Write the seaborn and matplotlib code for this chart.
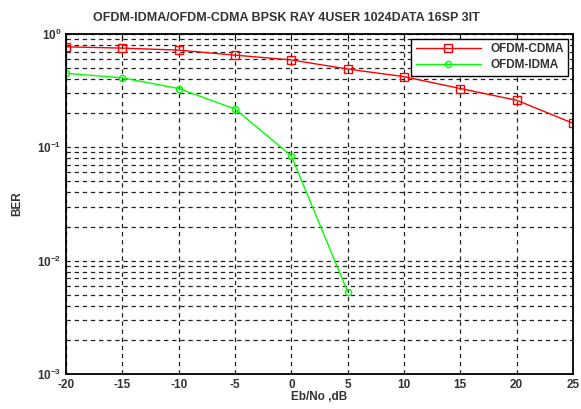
import matplotlib
matplotlib.use('Agg')
import matplotlib.pyplot as plt
import matplotlib.ticker as mticker
import seaborn as sns

# Eb/No in dB
ebno = [-20, -15, -10, -5, 0, 5, 10, 15, 20, 25]
ber_cdma = [0.77, 0.75, 0.72, 0.65, 0.59, 0.49, 0.42, 0.33, 0.26, 0.163]
ebno_idma = [-20, -15, -10, -5, 0, 5]
ber_idma = [0.45, 0.41, 0.33, 0.218, 0.084, 0.0053]

sns.set_style("white")
plt.rcParams['font.family'] = ['Liberation Sans', 'DejaVu Sans']
plt.rcParams['font.weight'] = 'bold'
plt.rcParams['mathtext.fontset'] = 'custom'
plt.rcParams['mathtext.rm'] = 'Liberation Sans:bold'
plt.rcParams['mathtext.it'] = 'Liberation Sans:bold'
plt.rcParams['axes.unicode_minus'] = False
txt_color = '#333333'

fig = plt.figure(figsize=(5.81, 4.09), dpi=100)
ax = fig.add_axes([0.1136, 0.0856, 0.8726, 0.8314])

sns.lineplot(x=ebno, y=ber_cdma, ax=ax, color='#ff0000', linewidth=1.0,
             marker='s', markersize=6, markerfacecolor='none',
             markeredgecolor='#ff0000', markeredgewidth=1.0, label='OFDM-CDMA')
sns.lineplot(x=ebno_idma, y=ber_idma, ax=ax, color='#00ff00', linewidth=1.0,
             marker='o', markersize=4.5, markerfacecolor='none',
             markeredgecolor='#00ff00', markeredgewidth=1.0, label='OFDM-IDMA')

ax.set_yscale('log')
ax.set_xlim(-20, 25)
ax.set_ylim(1e-3, 1e0)
ax.set_xticks(range(-20, 26, 5))
ax.yaxis.set_major_locator(mticker.LogLocator(base=10, numticks=10))
ax.yaxis.set_minor_locator(mticker.LogLocator(base=10, subs=range(2, 10), numticks=20))
ax.yaxis.set_minor_formatter(mticker.NullFormatter())

grid_style = dict(color='#222222', linestyle=(0, (3.5, 3)), linewidth=0.9)
ax.grid(True, which='major', axis='both', **grid_style)
ax.grid(True, which='minor', axis='y', **grid_style)

for s in ax.spines.values():
    s.set_color('black')
    s.set_linewidth(1.3)
ax.tick_params(which='both', direction='in', top=True, right=True,
               labelsize=8.5, color='black', length=3, labelcolor=txt_color)
ax.tick_params(which='minor', length=2)

ax.set_title('OFDM-IDMA/OFDM-CDMA BPSK RAY 4USER 1024DATA 16SP 3IT',
             fontsize=9, pad=9, color=txt_color, fontweight='bold', x=0.435)
ax.set_xlabel('Eb/No ,dB', fontsize=8.5, labelpad=0, color=txt_color,
              fontweight='bold')
ax.set_ylabel('BER', fontsize=8.5, labelpad=10, color=txt_color,
              fontweight='bold')

leg = ax.legend(loc='upper right', fontsize=8.5, frameon=True, fancybox=False,
                edgecolor='black', framealpha=1, borderaxespad=0.4,
                handlelength=5.5, numpoints=1, borderpad=0.4, labelspacing=0.3)
leg.get_frame().set_linewidth(1.0)
for t in leg.get_texts():
    t.set_color(txt_color)

plt.savefig('out.png', dpi=100)
